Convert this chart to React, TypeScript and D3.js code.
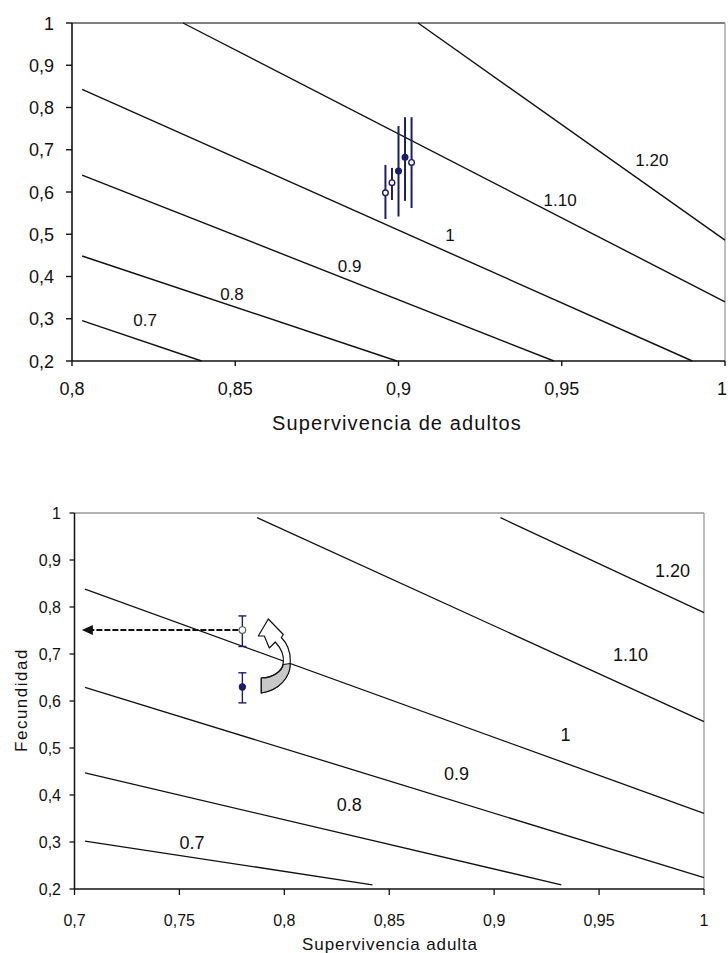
import React from "react";
import * as d3 from "d3";

// ---------- Top chart data ----------
const topXTicks = [0.8, 0.85, 0.9, 0.95, 1];
const topXTickLabels = ["0,8", "0,85", "0,9", "0,95", "1"];
const topYTicks = [0.2, 0.3, 0.4, 0.5, 0.6, 0.7, 0.8, 0.9, 1];
const topYTickLabels = ["0,2", "0,3", "0,4", "0,5", "0,6", "0,7", "0,8", "0,9", "1"];
const topContourLevels = ["0.7", "0.8", "0.9", "1", "1.10", "1.20"];
const topContourLines: [number, number][][] = [
  [[0.8031, 0.2954], [0.8397, 0.2]],
  [[0.8031, 0.4485], [0.8995, 0.2]],
  [[0.8031, 0.640], [0.9476, 0.2]],
  [[0.8031, 0.843], [0.990, 0.2]],
  [[0.834, 1.0], [1.0, 0.34]],
  [[0.906, 1.0], [1.0, 0.486]],
];
const topLabelPos: [number, number][] = [
  [0.8224, 0.297], [0.849, 0.359], [0.885, 0.425], [0.9158, 0.498], [0.9495, 0.581], [0.9776, 0.676],
];
const topPointsX = [0.896, 0.898, 0.900, 0.902, 0.904];
const topPointsY = [0.598, 0.622, 0.650, 0.682, 0.670];
const topPointsLow = [0.536, 0.581, 0.542, 0.579, 0.562];
const topPointsHigh = [0.664, 0.657, 0.756, 0.777, 0.777];
const topPointsFilled = [false, false, true, true, false];

// ---------- Bottom chart data ----------
const botXTicks = [0.7, 0.75, 0.8, 0.85, 0.9, 0.95, 1];
const botXTickLabels = ["0,7", "0,75", "0,8", "0,85", "0,9", "0,95", "1"];
const botYTicks = [0.2, 0.3, 0.4, 0.5, 0.6, 0.7, 0.8, 0.9, 1];
const botYTickLabels = ["0,2", "0,3", "0,4", "0,5", "0,6", "0,7", "0,8", "0,9", "1"];
const botContourLevels = ["0.7", "0.8", "0.9", "1", "1.10", "1.20"];
const botContourLines: [number, number][][] = [
  [[0.705, 0.302], [0.842, 0.209]],
  [[0.705, 0.447], [0.932, 0.209]],
  [[0.705, 0.629], [1.0, 0.224]],
  [[0.705, 0.838], [1.0, 0.361]],
  [[0.787, 0.99], [1.0, 0.556]],
  [[0.903, 0.99], [1.0, 0.788]],
];
const botLabelPos: [number, number][] = [
  [0.756, 0.300], [0.831, 0.379], [0.882, 0.445], [0.934, 0.528], [0.965, 0.698], [0.985, 0.877],
];
const botPointsX = [0.78, 0.78];
const botPointsY = [0.751, 0.630];
const botPointsLow = [0.716, 0.596];
const botPointsHigh = [0.781, 0.660];
const botPointsFilled = [false, true];
const arrowEndX = 0.7035;
const curvedArrowAnchor: [number, number] = [0.8, 0.65];

const NAVY = "#1c1c6c";
const FONT = "'Liberation Sans', Arial, sans-serif";

export default function App() {
  // scales
  const xT = d3.scaleLinear().domain([0.8, 1]).range([72, 725]);
  const yT = d3.scaleLinear().domain([0.2, 1]).range([361, 23]);
  const xB = d3.scaleLinear().domain([0.7, 1]).range([74.5, 704]);
  const yB = d3.scaleLinear().domain([0.2, 1]).range([889, 513]);

  const lineT = d3.line<[number, number]>().x((d) => xT(d[0])).y((d) => yT(d[1]));
  const lineB = d3.line<[number, number]>().x((d) => xB(d[0])).y((d) => yB(d[1]));

  // curved arrow (annotation shape relative to anchor)
  const ax = xB(curvedArrowAnchor[0]);
  const ay = yB(curvedArrowAnchor[1]);
  const P = (x: number, y: number) => `${(ax + x).toFixed(1)},${(ay + y).toFixed(1)}`;
  const fullArrow =
    `M${P(-23, 15.5)} C${P(-5, 12.5)} ${P(6, 0)} ${P(6, -17)} ` +
    `C${P(6, -27)} ${P(2, -35)} ${P(-3, -40)} L${P(-1, -43)} L${P(-16, -58.5)} L${P(-26, -41.5)} ` +
    `L${P(-20, -41.5)} L${P(-15, -29.5)} L${P(-9, -35.5)} ` +
    `C${P(-4, -30)} ${P(0, -23)} ${P(-1, -15)} C${P(-2, -6)} ${P(-12, 0.5)} ${P(-23, 0.5)} Z`;
  const grayArrow =
    `M${P(-23, 15.5)} C${P(-5, 12.5)} ${P(6, 0)} ${P(6, -14)} ` +
    `L${P(-1, -13)} C${P(-2, -6)} ${P(-12, 0.5)} ${P(-23, 0.5)} Z`;

  const openY = yB(botPointsY[0]);
  const arrowTipX = xB(arrowEndX);

  return (
    <svg width={728} height={953} style={{ position: "absolute", left: 0, top: 0, background: "#fff" }}
      fontFamily={FONT}>
      <rect x={0} y={0} width={728} height={953} fill="#fff" />
      {/* ================= TOP CHART ================= */}
      <g>
        {/* frame */}
        <line x1={xT(0.8)} x2={xT(1)} y1={yT(1)} y2={yT(1)} stroke="#555" strokeWidth={1.3} />
        <line x1={xT(1)} x2={xT(1)} y1={yT(1)} y2={yT(0.2)} stroke="#999" strokeWidth={1.3} />
        {/* contours */}
        {topContourLines.map((l, i) => (
          <path key={i} d={lineT(l) || ""} fill="none" stroke="#111" strokeWidth={1.4} />
        ))}
        {topContourLevels.map((t, i) => (
          <text key={i} x={xT(topLabelPos[i][0])} y={yT(topLabelPos[i][1]) + 6} fontSize={17}
            textAnchor="middle" fill="#111">{t}</text>
        ))}
        {/* axes */}
        <line x1={xT(0.8)} x2={xT(0.8)} y1={yT(1)} y2={yT(0.2)} stroke="#111" strokeWidth={1.6} />
        <line x1={xT(0.8)} x2={xT(1)} y1={yT(0.2)} y2={yT(0.2)} stroke="#111" strokeWidth={1.6} />
        {topYTicks.map((t, i) => (
          <g key={i}>
            <line x1={xT(0.8) - 6} x2={xT(0.8)} y1={yT(t)} y2={yT(t)} stroke="#111" strokeWidth={1.4} />
            <text x={54} y={yT(t) + 6.5} fontSize={18} textAnchor="end" fill="#111">{topYTickLabels[i]}</text>
          </g>
        ))}
        {topXTicks.map((t, i) => (
          <g key={i}>
            <line x1={xT(t)} x2={xT(t)} y1={yT(0.2)} y2={yT(0.2) + 5} stroke="#111" strokeWidth={1.4} />
            <text x={Math.min(xT(t), 722)} y={395} fontSize={18} textAnchor="middle" fill="#111">{topXTickLabels[i]}</text>
          </g>
        ))}
        <text x={397} y={430} fontSize={20} textAnchor="middle" letterSpacing={1.1} fill="#111">
          Supervivencia de adultos
        </text>
        {/* data points */}
        {topPointsX.map((x, i) => (
          <g key={i}>
            <line x1={xT(x)} x2={xT(x)} y1={yT(topPointsLow[i])} y2={yT(topPointsHigh[i])}
              stroke={NAVY} strokeWidth={2} />
            <circle cx={xT(x)} cy={yT(topPointsY[i])} r={2.8}
              fill={topPointsFilled[i] ? NAVY : "#fff"} stroke={NAVY} strokeWidth={1.4} />
          </g>
        ))}
      </g>

      {/* ================= BOTTOM CHART ================= */}
      <g>
        <line x1={xB(0.7)} x2={xB(1)} y1={yB(1)} y2={yB(1)} stroke="#999" strokeWidth={1.3} />
        <line x1={xB(1)} x2={xB(1)} y1={yB(1)} y2={yB(0.2)} stroke="#999" strokeWidth={1.3} />
        {botContourLines.map((l, i) => (
          <path key={i} d={lineB(l) || ""} fill="none" stroke="#111" strokeWidth={1.3} />
        ))}
        {botContourLevels.map((t, i) => (
          <text key={i} x={xB(botLabelPos[i][0])} y={yB(botLabelPos[i][1]) + 6.5} fontSize={18}
            textAnchor="middle" fill="#111">{t}</text>
        ))}
        <line x1={xB(0.7)} x2={xB(0.7)} y1={yB(1)} y2={yB(0.2)} stroke="#111" strokeWidth={1.5} />
        <line x1={xB(0.7)} x2={xB(1)} y1={yB(0.2)} y2={yB(0.2)} stroke="#111" strokeWidth={1.5} />
        {botYTicks.map((t, i) => (
          <g key={i}>
            <line x1={xB(0.7) - 5} x2={xB(0.7)} y1={yB(t)} y2={yB(t)} stroke="#111" strokeWidth={1.3} />
            <text x={61} y={yB(t) + 6} fontSize={16} textAnchor="end" fill="#111">{botYTickLabels[i]}</text>
          </g>
        ))}
        {botXTicks.map((t, i) => (
          <g key={i}>
            <line x1={xB(t)} x2={xB(t)} y1={yB(0.2)} y2={yB(0.2) + 6} stroke="#111" strokeWidth={1.3} />
            <text x={xB(t)} y={926} fontSize={16} textAnchor="middle" fill="#111">{botXTickLabels[i]}</text>
          </g>
        ))}
        <text x={390} y={950} fontSize={17} textAnchor="middle" letterSpacing={0.9} fill="#111">
          Supervivencia adulta
        </text>
        <text transform="translate(27,700) rotate(-90)" fontSize={17} textAnchor="middle"
          letterSpacing={1.5} fill="#111">Fecundidad</text>

        {/* dashed arrow */}
        <line x1={xB(botPointsX[0]) - 4} x2={arrowTipX + 8} y1={openY} y2={openY}
          stroke="#111" strokeWidth={2} strokeDasharray="6,2" />
        <path d={`M${arrowTipX},${openY} L${arrowTipX + 11},${openY - 5} L${arrowTipX + 11},${openY + 5} Z`}
          fill="#111" />

        {/* points with error bars */}
        {botPointsX.map((x, i) => {
          const cx = xB(x);
          return (
            <g key={i}>
              <line x1={cx} x2={cx} y1={yB(botPointsLow[i])} y2={yB(botPointsHigh[i])} stroke={NAVY} strokeWidth={1.4} />
              <line x1={cx - 4} x2={cx + 4} y1={yB(botPointsLow[i])} y2={yB(botPointsLow[i])} stroke={NAVY} strokeWidth={1.4} />
              <line x1={cx - 4} x2={cx + 4} y1={yB(botPointsHigh[i])} y2={yB(botPointsHigh[i])} stroke={NAVY} strokeWidth={1.4} />
              <circle cx={cx} cy={yB(botPointsY[i])} r={botPointsFilled[i] ? 3 : 3.3}
                fill={botPointsFilled[i] ? NAVY : "#fff"} stroke={botPointsFilled[i] ? NAVY : "#5a6a5a"} strokeWidth={1.2} />
            </g>
          );
        })}

        {/* curved arrow annotation */}
        <path d={fullArrow} fill="#fff" stroke="#111" strokeWidth={1.2} strokeLinejoin="round" />
        <path d={grayArrow} fill="#c8c8c8" stroke="#111" strokeWidth={1.2} strokeLinejoin="round" />
      </g>
    </svg>
  );
}
